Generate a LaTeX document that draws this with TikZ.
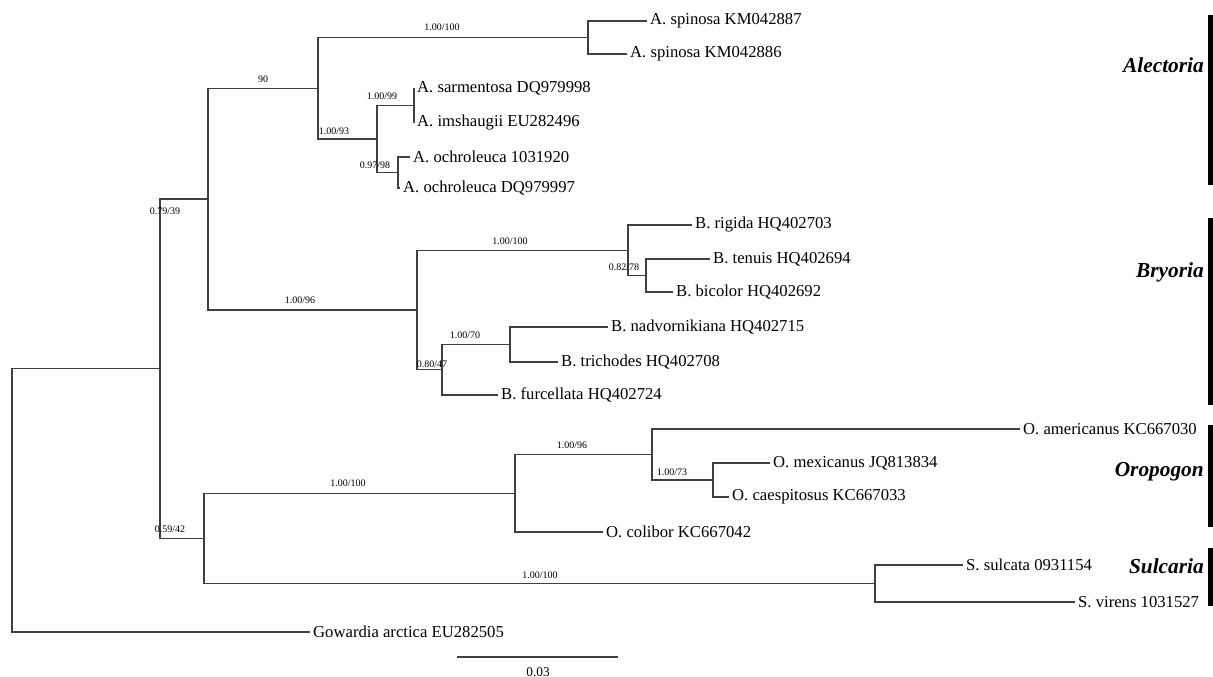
\documentclass[tikz,border=0pt]{standalone}
\usepackage{fontspec}
\setmainfont{Liberation Serif}
\begin{document}
\begin{tikzpicture}[x=0.75pt,y=-0.75pt,
  br/.style={line width=1pt,draw=black!75},
  leaf/.style={anchor=west,inner ysep=0pt,inner xsep=2.2pt,font=\fontsize{12.5}{14}\selectfont},
  sup/.style={inner sep=0pt,font=\fontsize{7.5}{8}\selectfont},
  clade/.style={anchor=east,inner sep=0pt,font=\fontsize{16}{18}\selectfont\bfseries\itshape},
  cbar/.style={fill=black,draw=none}]
\useasboundingbox (0,0) rectangle (1213,677);
% internal nodes
\coordinate (r) at (12,500);
\coordinate (n1) at (160,368.75);
\coordinate (n2) at (208,199.1);
\coordinate (nA) at (318,88.25);
\coordinate (nAsp) at (588,37.5);
\coordinate (nA2) at (377,139);
\coordinate (nA3) at (414,105.5);
\coordinate (nA4) at (398,172.5);
\coordinate (nB) at (417,310);
\coordinate (nB1) at (628,250.25);
\coordinate (nB2) at (646,275.5);
\coordinate (nB3) at (442,369.75);
\coordinate (nB4) at (510,344.5);
\coordinate (n3) at (204,538.4);
\coordinate (nO) at (515,493.25);
\coordinate (nO1) at (652,454.5);
\coordinate (nO2) at (713,480);
\coordinate (nS) at (875,583.5);
% leaves
\node[leaf] (sp1) at (647,21) {A. spinosa KM042887};
\node[leaf] (sp2) at (627,54) {A. spinosa KM042886};
\node[leaf] (sarm) at (414,88) {A. sarmentosa DQ979998};
\node[leaf] (imsh) at (414,123) {A. imshaugii EU282496};
\node[leaf] (och1) at (410,157) {A. ochroleuca 1031920};
\node[leaf] (och2) at (400,188) {A. ochroleuca DQ979997};
\node[leaf] (rig) at (692,225) {B. rigida HQ402703};
\node[leaf] (ten) at (710,259) {B. tenuis HQ402694};
\node[leaf] (bic) at (673,292) {B. bicolor HQ402692};
\node[leaf] (nadv) at (608,327) {B. nadvornikiana HQ402715};
\node[leaf] (tric) at (558,362) {B. trichodes HQ402708};
\node[leaf] (furc) at (498,395) {B. furcellata HQ402724};
\node[leaf] (amer) at (1020,429) {O. americanus KC667030};
\node[leaf] (mex) at (770,463) {O. mexicanus JQ813834};
\node[leaf] (caesp) at (729,497) {O. caespitosus KC667033};
\node[leaf] (col) at (603,532) {O. colibor KC667042};
\node[leaf] (sulc) at (963,565) {S. sulcata 0931154};
\node[leaf] (vir) at (1075,602) {S. virens 1031527};
\node[leaf] (gow) at (310,632) {Gowardia arctica EU282505};
% branches
\draw[br] (r) |- (n1);
\draw[br] (r) |- (gow.west);
\draw[br] (n1) |- (n2);
\draw[br] (n1) |- (n3);
\draw[br] (n2) |- (nA);
\draw[br] (n2) |- (nB);
\draw[br] (nA) |- (nAsp);
\draw[br] (nAsp) |- (sp1.west);
\draw[br] (nAsp) |- (sp2.west);
\draw[br] (nA) |- (nA2);
\draw[br] (nA2) |- (nA3);
\draw[br] (nA3) |- (sarm.west);
\draw[br] (nA3) |- (imsh.west);
\draw[br] (nA2) |- (nA4);
\draw[br] (nA4) |- (och1.west);
\draw[br] (nA4) |- (och2.west);
\draw[br] (nB) |- (nB1);
\draw[br] (nB1) |- (rig.west);
\draw[br] (nB1) |- (nB2);
\draw[br] (nB2) |- (ten.west);
\draw[br] (nB2) |- (bic.west);
\draw[br] (nB) |- (nB3);
\draw[br] (nB3) |- (nB4);
\draw[br] (nB4) |- (nadv.west);
\draw[br] (nB4) |- (tric.west);
\draw[br] (nB3) |- (furc.west);
\draw[br] (n3) |- (nO);
\draw[br] (nO) |- (nO1);
\draw[br] (nO1) |- (amer.west);
\draw[br] (nO1) |- (nO2);
\draw[br] (nO2) |- (mex.west);
\draw[br] (nO2) |- (caesp.west);
\draw[br] (nO) |- (col.west);
\draw[br] (n3) |- (nS);
\draw[br] (nS) |- (sulc.west);
\draw[br] (nS) |- (vir.west);
% support values
\node[sup] (s1) at (442,27) {1.00/100};
\node[sup] (s2) at (263,79) {90};
\node[sup] (s3) at (382,96) {1.00/99};
\node[sup] (s4) at (334,131) {1.00/93};
\node[sup] (s5) at (375,165) {0.97/98};
\node[sup] (s6) at (165,211) {0.79/39};
\node[sup] (s7) at (300,300) {1.00/96};
\node[sup] (s8) at (510,241) {1.00/100};
\node[sup] (s9) at (624,267) {0.82/78};
\node[sup] (s10) at (432,364) {0.80/47};
\node[sup] (s11) at (465,335) {1.00/70};
\node[sup] (s12) at (348,483) {1.00/100};
\node[sup] (s13) at (170,529) {0.59/42};
\node[sup] (s14) at (572,445) {1.00/96};
\node[sup] (s15) at (672,472) {1.00/73};
\node[sup] (s16) at (540,575) {1.00/100};
% scale bar
\coordinate (sb1) at (457,657);
\coordinate (sb2) at (618,657);
\draw[br] (sb1) -- (sb2);
\node[sup,font=\fontsize{10}{12}\selectfont] (sbl) at (538,672) {0.03};
% clade bars and names
\fill[cbar] (1208,15) rectangle (1213,185);
\fill[cbar] (1208,218) rectangle (1213,405);
\fill[cbar] (1208,425) rectangle (1213,527);
\fill[cbar] (1208,548) rectangle (1213,606);
\node[clade] (cA) at (1204,65) {Alectoria};
\node[clade] (cB) at (1204,272) {Bryoria};
\node[clade] (cO) at (1204,472) {Oropogon};
\node[clade] (cS) at (1204,566) {Sulcaria};
\end{tikzpicture}
\end{document}
